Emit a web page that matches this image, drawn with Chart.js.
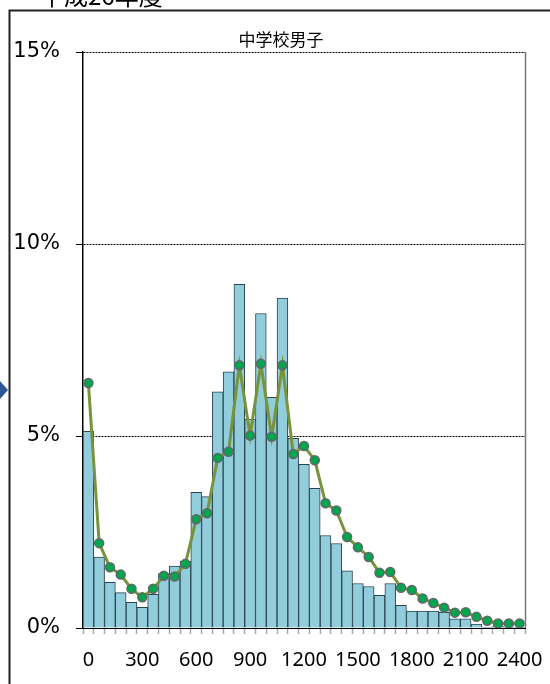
<!DOCTYPE html>
<html>
<head>
<meta charset="utf-8">
<script src="https://cdn.jsdelivr.net/npm/chart.js@4.4.1/dist/chart.umd.min.js"></script>
<style>
html,body{margin:0;padding:0;background:#fff;}
#wrap{position:absolute;left:0;top:0;width:550px;height:684px;}
</style>
</head>
<body>
<div id="wrap"><canvas id="c" width="550" height="684"></canvas></div>
<script>
const pageTitle = '平成26年度';
const chartTitle = '中学校男子';
const categories = ['0','60','120','180','240','300','360','420','480','540','600','660','720','780','840','900','960','1020','1080','1140','1200','1260','1320','1380','1440','1500','1560','1620','1680','1740','1800','1860','1920','1980','2040','2100','2160','2220','2280','2340','2400'];
const xTickLabels = ['0','300','600','900','1200','1500','1800','2100','2400'];
const yTicks = [0, 5, 10, 15];
const barValues = [5.12,1.85,1.19,0.92,0.67,0.54,0.88,1.42,1.61,1.74,3.53,3.42,6.15,6.67,8.95,5.44,8.19,6.01,8.59,4.94,4.26,3.64,2.41,2.20,1.49,1.16,1.08,0.85,1.16,0.59,0.44,0.44,0.44,0.41,0.24,0.24,0.10,0.02,0.05,0.02,0.02];
const lineValues = [6.38,2.21,1.58,1.39,1.02,0.80,1.02,1.36,1.34,1.67,2.83,2.99,4.43,4.59,6.84,5.01,6.88,4.98,6.84,4.53,4.74,4.37,3.25,3.06,2.37,2.10,1.85,1.44,1.46,1.05,0.99,0.77,0.65,0.53,0.40,0.41,0.29,0.19,0.12,0.12,0.12];

const deco = {
  id: 'deco',
  beforeDraw(chart) {
    const ctx = chart.ctx;
    ctx.save();
    ctx.fillStyle = '#fff';
    ctx.fillRect(0, 0, chart.width, chart.height);
    ctx.strokeStyle = '#222';
    ctx.lineWidth = 2;
    ctx.beginPath();
    ctx.moveTo(9.5, 684);
    ctx.lineTo(9.5, 10.5);
    ctx.lineTo(550, 10.5);
    ctx.stroke();
    ctx.fillStyle = '#000';
    ctx.font = '24px "Noto Sans CJK JP"';
    ctx.textBaseline = 'alphabetic';
    ctx.textAlign = 'left';
    ctx.fillText(pageTitle, 40, 5);
    ctx.fillStyle = '#2F5597';
    ctx.beginPath();
    ctx.moveTo(-1, 380);
    ctx.lineTo(8, 390);
    ctx.lineTo(-1, 400);
    ctx.closePath();
    ctx.fill();
    ctx.restore();
  },
  afterDraw(chart) {
    const ctx = chart.ctx;
    const a = chart.chartArea;
    ctx.save();
    ctx.strokeStyle = '#777';
    ctx.lineWidth = 1.5;
    ctx.beginPath();
    ctx.moveTo(a.right + 0.5, a.top);
    ctx.lineTo(a.right + 0.5, a.bottom);
    ctx.stroke();
    ctx.fillStyle = '#000';
    ctx.font = '17px "Noto Sans CJK JP"';
    ctx.textAlign = 'center';
    ctx.textBaseline = 'alphabetic';
    ctx.fillText(chartTitle, 281, 46);
    ctx.restore();
  }
};

new Chart(document.getElementById('c'), {
  type: 'bar',
  data: {
    labels: categories,
    datasets: [
      {
        type: 'line',
        data: lineValues,
        borderColor: '#77933C',
        borderWidth: 3,
        pointBackgroundColor: '#00A550',
        pointBorderColor: '#666',
        pointBorderWidth: 1.5,
        pointRadius: 4.5,
        tension: 0,
        order: 0
      },
      {
        type: 'bar',
        data: barValues,
        backgroundColor: '#92CDDC',
        borderColor: '#2B4550',
        borderWidth: 1,
        categoryPercentage: 1,
        barPercentage: 1,
        order: 1
      }
    ]
  },
  options: {
    responsive: false,
    animation: false,
    devicePixelRatio: 1,
    layout: { padding: { left: 0, right: 25, top: 52, bottom: 0 } },
    plugins: { legend: { display: false }, tooltip: { enabled: false }, title: { display: false } },
    scales: {
      x: {
        type: 'category',
        offset: true,
        grid: { display: true, offset: true, drawOnChartArea: false, drawTicks: true, tickLength: 6, tickColor: '#aaa', tickWidth: 1.5 },
        border: { display: true, color: '#000', width: 1 },
        ticks: {
          autoSkip: false,
          maxRotation: 0,
          minRotation: 0,
          padding: 14,
          color: '#000',
          font: { family: 'Noto Sans', size: 20 },
          callback: function(v, i) {
            const lab = categories[i];
            return xTickLabels.includes(lab) ? lab : '';
          }
        },
        afterFit: function(s) { s.height = 56; s.paddingLeft = 0; s.paddingRight = 0; }
      },
      y: {
        min: yTicks[0],
        max: yTicks[yTicks.length - 1],
        afterBuildTicks: function(s) { s.ticks = yTicks.map(v => ({ value: v })); },
        grid: { color: '#000', lineWidth: 1, tickLength: 7, tickColor: '#000', drawTicks: true },
        border: { display: true, color: '#000', width: 1.5, dash: [2, 1] },
        ticks: {
          padding: 16,
          color: '#000',
          font: { family: 'DejaVu Sans', size: 21 },
          callback: v => v + '%'
        },
        afterFit: function(s) { s.width = 83; s.paddingTop = 0; s.paddingBottom = 0; }
      }
    }
  },
  plugins: [deco]
});
</script>
</body>
</html>
